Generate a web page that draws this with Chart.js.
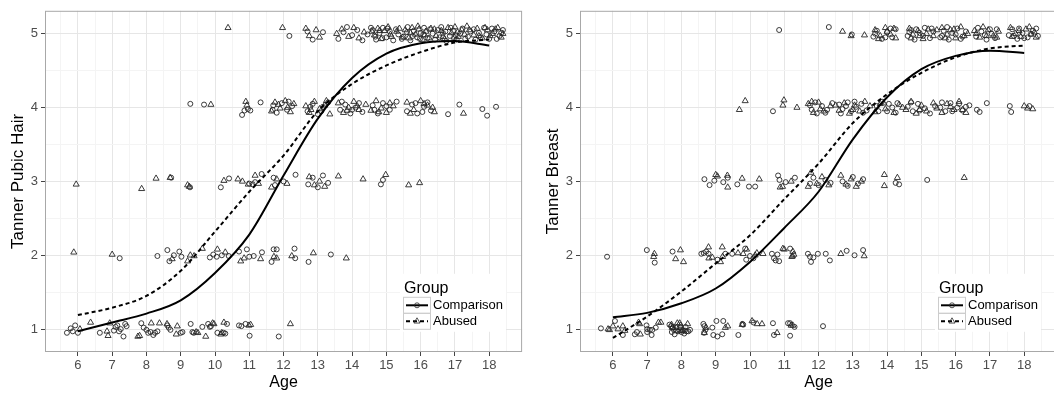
<!DOCTYPE html>
<html>
<head>
<meta charset="utf-8">
<title>Tanner stage by age</title>
<script src="https://cdn.jsdelivr.net/npm/chart.js@4"></script>
<style>
  body { margin: 0; width: 1054px; height: 394px; overflow: hidden; background: #fff; }
  .panel { position: absolute; top: 0; width: 527px; height: 394px; }
</style>
</head>
<body>
<div class="panel" style="left:0"><canvas id="pubicChart" width="527" height="394"></canvas></div>
<div class="panel" style="left:535px"><canvas id="breastChart" width="527" height="394"></canvas></div>

<script>
// ---- data: [age, stage] (points carry the plot's jitter) ----
const fitAges = [6, 7, 8, 9, 10, 11, 12, 13, 14, 15, 16, 17, 18];

// Tanner Pubic Hair
const pubicComparisonFit = [0.97, 1.09, 1.21, 1.39, 1.76, 2.28, 3.08, 3.85, 4.4, 4.73, 4.87, 4.9, 4.84];
const pubicAbusedFit     = [1.19, 1.29, 1.45, 1.79, 2.32, 2.86, 3.35, 3.95, 4.32, 4.57, 4.75, 4.88, 4.92];

const pubicComparison = [
  [12.17,4.97],[12.7,5.03],[12.85,4.92],[13.15,5.02],[13.6,4.93],[13.75,5.02],[13.85,5.09],[14.0,4.98],[14.15,5.05],[14.3,4.91],
  [14.45,4.99],[14.6,5.05],[14.7,4.92],[14.8,5.01],[14.9,5.08],[15.0,4.95],[15.1,5.03],[15.2,4.91],[15.35,4.99],[15.5,4.96],
  [15.6,5.02],[15.7,4.91],[15.8,5.04],[15.9,4.95],[16.0,5.01],[16.1,5.08],[16.2,4.94],[16.35,5.0],[16.5,5.05],[16.55,4.95],
  [16.65,5.01],[16.75,4.9],[16.85,4.97],[16.95,5.04],[17.05,4.92],[17.15,5.0],[17.3,4.93],[17.45,5.03],[17.6,4.92],[17.7,5.01],
  [17.85,5.08],[18.0,4.93],[18.15,5.03],[18.3,4.97],[18.4,5.05],
  [14.55,5.08],[14.68,4.96],[14.88,4.94],[15.03,5.07],[15.28,5.06],[15.45,4.93],[15.62,5.09],[15.77,4.97],[15.98,4.93],[16.08,4.99],
  [16.27,5.06],[16.42,4.92],[16.6,5.09],[16.72,5.03],[16.88,5.08],[17.02,4.98],[17.22,5.07],[17.38,4.96],[17.55,5.06],[17.75,4.95],
  [17.92,4.99],[18.08,5.07],[18.22,4.93],[18.35,5.01],
  [9.28,4.05],[9.68,4.04],[10.79,3.9],[10.86,3.96],[10.96,3.98],[11.03,3.96],[11.33,4.07],[11.7,4.03],[11.8,3.93],[11.95,4.06],
  [12.1,3.97],[12.25,4.02],[12.7,3.95],[12.85,4.05],[13.0,3.91],[13.15,4.01],[13.3,4.07],[13.65,3.97],[13.8,4.04],[13.95,3.92],
  [14.1,4.0],[14.3,3.94],[14.6,4.03],[14.75,3.92],[14.9,4.06],[15.1,3.97],[15.3,4.08],[15.6,3.95],[15.75,4.04],[15.9,3.92],
  [16.1,4.01],[16.3,3.96],[16.8,3.91],[17.13,4.04],[17.8,3.98],[17.94,3.89],[18.2,4.01],
  [11.68,3.97],[12.15,4.08],[12.78,4.01],[13.1,3.95],[13.7,4.08],[14.0,3.97],[14.2,4.06],[14.65,3.97],[15.0,4.02],[15.85,4.06],
  [16.05,3.94],[16.2,4.07],
  [8.72,3.05],[9.27,2.92],[10.17,2.92],[10.41,3.04],[11.0,2.97],[11.1,2.96],[11.17,2.99],[11.36,3.1],[11.71,3.05],[11.75,2.95],
  [12.0,3.0],[12.35,3.09],[12.72,2.96],[12.85,3.05],[13.0,2.92],[13.15,3.08],[13.3,2.98],[14.84,2.96],[14.9,3.02],
  [7.22,1.96],[8.32,1.99],[8.61,2.07],[8.67,1.92],[8.8,2.0],[8.96,2.05],[9.02,1.98],[9.85,1.97],[9.95,2.01],[10.05,1.98],
  [10.2,2.0],[10.4,1.99],[10.7,2.05],[10.93,2.08],[11.0,1.98],[11.13,1.99],[11.37,2.04],[11.65,1.91],[11.71,2.08],[11.8,2.08],
  [12.32,2.09],[12.34,1.96],[12.73,1.91],[13.38,2.01],
  [5.68,0.95],[5.79,1.01],[5.85,0.97],[5.92,1.05],[6.0,0.95],[6.64,0.95],[7.05,0.98],[7.1,1.03],[7.15,1.05],[7.2,0.97],
  [7.25,1.0],[7.33,0.9],[7.38,1.07],[7.42,1.04],[7.85,1.08],[7.92,1.02],[8.0,0.99],[8.05,0.95],[8.12,0.96],[8.2,0.92],
  [8.25,0.95],[8.32,0.97],[8.61,1.05],[8.65,1.02],[8.7,0.99],[9.0,0.95],[9.05,0.96],[9.29,1.07],[9.34,0.96],[9.38,0.95],
  [9.63,1.03],[9.8,1.07],[9.85,1.03],[9.88,1.04],[10.07,0.95],[10.25,0.95],[10.3,0.94],[10.35,1.07],[10.7,1.05],[10.77,1.04],
  [10.89,1.07],[11.01,0.91],[11.86,0.9]
];
const pubicAbused = [
  [10.38,5.08],[11.97,5.08],[12.65,5.07],[12.75,4.97],[12.95,5.05],[13.05,4.95],[13.55,5.0],[13.7,5.06],[13.9,4.96],[14.05,5.08],
  [14.2,4.94],[14.35,5.02],[14.65,4.98],[14.75,5.07],[14.85,4.93],[14.95,5.04],[15.05,5.09],[15.15,4.96],[15.3,5.03],[15.55,5.05],
  [15.65,4.94],[15.75,5.08],[15.85,4.99],[15.95,5.06],[16.05,4.92],[16.15,5.03],[16.3,5.07],[16.45,4.97],[16.6,5.04],[16.7,4.93],
  [16.8,5.08],[16.9,5.01],[17.0,5.09],[17.1,4.96],[17.2,5.05],[17.35,5.1],[17.55,4.98],[17.65,5.07],[17.8,4.94],[17.95,5.05],
  [18.1,5.0],[18.25,5.08],[18.35,4.95],
  [14.58,5.03],[14.8,5.04],[15.12,4.99],[15.38,5.07],[15.48,4.95],[15.7,5.01],[15.92,5.1],[16.12,4.98],[16.25,4.94],[16.4,5.06],
  [16.65,4.96],[16.98,4.95],[17.08,5.02],[17.28,4.99],[17.42,5.05],[17.7,4.97],[17.88,5.08],[18.03,4.97],[18.18,5.06],[18.4,5.0],
  [9.88,4.04],[10.9,4.08],[10.93,4.03],[11.65,3.95],[11.75,4.07],[11.9,3.99],[12.05,4.09],[12.2,3.94],[12.3,4.05],[12.65,4.02],
  [12.75,3.93],[12.9,4.08],[13.05,3.98],[13.2,4.03],[13.35,3.91],[13.6,4.06],[13.75,3.93],[13.9,4.0],[14.05,4.08],[14.2,3.97],
  [14.4,4.04],[14.55,3.96],[14.7,4.09],[14.85,3.99],[15.0,3.93],[15.2,4.02],[15.6,4.07],[15.8,3.97],[16.0,4.09],[16.2,4.03],
  [16.4,3.94],[17.25,3.92],
  [11.85,4.04],[12.12,4.0],[12.8,3.97],[13.25,4.09],[13.85,3.96],[14.15,4.02],[14.78,3.94],[15.1,4.06],[15.7,3.92],[16.1,4.05],
  [16.35,4.0],
  [5.95,2.96],[7.86,2.9],[8.28,3.04],[8.69,3.05],[9.2,2.95],[9.25,2.93],[10.26,3.01],[10.67,3.03],[10.8,3.0],[10.97,2.96],
  [11.17,3.08],[11.27,2.97],[11.65,2.92],[11.8,3.03],[12.1,2.97],[12.75,3.06],[12.9,2.95],[13.05,3.0],[13.2,2.93],[13.6,3.07],
  [14.32,3.03],[14.98,3.09],[15.65,2.95],[15.97,2.98],
  [5.88,2.04],[7.0,2.01],[8.75,1.95],[9.2,1.92],[9.28,2.0],[9.39,1.99],[9.63,2.09],[10.07,2.08],[10.3,2.04],[10.75,1.92],
  [10.85,1.96],[11.33,1.95],[11.72,1.98],[11.8,1.96],[12.24,1.99],[12.87,2.03],[13.83,1.96],
  [6.06,1.0],[6.37,1.09],[6.85,0.97],[6.88,0.91],[6.93,1.08],[7.75,0.9],[7.8,0.91],[8.14,1.08],[8.38,1.08],[8.6,1.07],
  [8.87,0.93],[8.9,1.04],[9.45,0.96],[9.5,0.95],[9.73,0.9],[9.93,1.08],[9.97,1.07],[10.17,0.93],[10.2,0.95],[10.26,1.09],
  [10.99,1.05],[11.04,1.06],[12.2,1.07]
];

// Tanner Breast
const breastComparisonFit = [1.16, 1.22, 1.35, 1.55, 1.91, 2.37, 2.86, 3.57, 4.14, 4.52, 4.7, 4.77, 4.74];
const breastAbusedFit     = [0.88, 1.17, 1.51, 1.89, 2.27, 2.76, 3.24, 3.79, 4.18, 4.47, 4.68, 4.8, 4.84];

const breastComparison = [
  [10.85,5.05],[12.3,5.09],[12.97,4.99],[13.6,4.96],[13.7,5.04],[13.85,4.93],[14.0,5.02],[14.15,4.95],[14.25,5.06],[14.6,4.97],
  [14.7,5.05],[14.8,4.92],[14.95,5.01],[15.1,5.08],[15.25,4.94],[15.35,5.03],[15.55,4.95],[15.65,5.04],[15.8,4.92],[15.9,5.01],
  [16.05,5.07],[16.2,4.96],[16.3,5.03],[16.6,4.96],[16.75,5.03],[16.9,4.92],[17.05,5.0],[17.2,5.06],[17.55,4.98],[17.65,5.06],
  [17.8,4.93],[17.95,5.01],[18.1,4.95],[18.25,5.04],[18.4,4.97],
  [13.65,5.0],[13.95,4.95],[14.1,5.07],[14.65,5.02],[14.85,5.06],[15.05,4.97],[15.3,5.07],[15.6,4.97],[15.75,5.09],[16.0,4.99],
  [16.15,4.93],[16.65,5.08],[16.85,4.98],[17.0,5.06],[17.15,4.94],[17.7,4.97],[17.85,5.07],[18.0,4.94],[18.2,5.0],[18.35,5.07],
  [10.67,3.95],[11.75,4.03],[11.8,3.97],[11.95,3.92],[12.1,4.02],[12.25,3.97],[12.4,4.06],[12.6,4.04],[12.7,3.98],[12.85,4.07],
  [12.95,3.95],[13.1,4.01],[13.25,4.05],[13.4,3.96],[13.7,4.02],[13.85,4.08],[14.0,3.95],[14.15,4.0],[14.3,4.06],[14.6,4.01],
  [14.75,3.95],[14.9,4.05],[15.1,3.99],[15.25,3.92],[15.4,4.02],[15.55,4.0],[15.7,3.95],[15.85,4.06],[16.05,4.0],[16.2,3.96],
  [16.4,4.03],[16.62,3.97],[16.7,3.94],[16.91,4.06],[17.58,4.02],[17.62,3.94],[18.15,4.02],
  [11.9,4.07],[12.2,3.93],[12.65,3.92],[12.8,4.02],[13.05,4.08],[13.3,3.93],[13.75,3.95],[14.05,4.05],[14.25,3.93],[14.7,4.07],
  [14.95,3.96],[15.6,4.07],[15.9,3.95],[16.1,4.05],[16.3,4.01],
  [8.67,3.03],[8.82,2.95],[8.96,3.01],[9.22,2.99],[9.35,3.05],[9.63,2.96],[9.97,2.93],[10.15,2.93],[10.82,3.08],[10.86,3.02],
  [11.04,2.99],[11.31,3.05],[11.75,2.97],[11.85,3.05],[12.0,2.95],[12.2,3.02],[12.35,2.98],[12.7,3.0],[12.85,2.94],[13.0,3.06],
  [13.15,2.97],[13.3,3.03],[14.25,2.98],[14.35,2.96],[15.17,3.02],
  [5.83,1.98],[6.99,2.07],[7.22,1.9],[7.74,2.05],[8.58,2.02],[8.65,2.03],[8.72,2.05],[8.79,2.02],[9.05,1.94],[9.28,2.02],
  [9.48,2.02],[9.86,2.09],[9.89,1.94],[10.0,1.99],[10.1,1.96],[10.64,2.02],[10.7,1.96],[10.75,1.93],[10.85,1.92],[10.8,2.01],
  [11.17,2.09],[11.69,2.02],[11.75,1.98],[11.78,1.91],[11.85,1.97],[11.98,2.02],[12.21,2.02],[12.33,1.93],[12.82,2.06],[13.05,2.0],
  [13.3,2.07],
  [5.65,1.01],[6.06,1.11],[6.29,0.92],[6.64,0.93],[6.7,0.96],[6.98,1.05],[7.0,1.0],[7.0,0.96],[7.08,0.99],[7.13,0.92],
  [7.15,0.99],[7.25,1.02],[7.65,1.06],[7.7,1.04],[7.75,1.02],[7.78,0.99],[7.8,0.93],[7.85,0.98],[7.9,0.97],[7.95,0.98],
  [8.0,0.96],[8.05,0.98],[8.1,0.98],[8.15,0.97],[8.2,0.97],[8.64,1.07],[8.67,1.04],[8.7,0.99],[8.66,0.95],[8.9,1.02],
  [8.93,0.92],[9.05,0.9],[9.02,1.11],[9.19,0.93],[9.22,1.11],[9.66,0.92],[9.78,1.07],[9.8,1.06],[10.1,1.09],[10.67,1.08],
  [10.7,0.92],[11.11,1.08],[11.17,0.91],[11.17,1.08],[11.3,1.03],[12.13,1.04],
  [7.72,0.96],[7.98,1.02],[8.08,0.94],[8.12,1.03],[8.25,0.99]
];
const breastAbused = [
  [12.7,5.03],[12.95,4.97],[13.34,4.98],[13.65,5.05],[13.8,4.97],[13.95,5.08],[14.1,4.99],[14.25,4.94],[14.65,5.07],[14.75,4.99],
  [14.9,5.04],[15.05,4.93],[15.2,5.06],[15.35,4.97],[15.6,5.08],[15.75,4.99],[15.85,5.05],[16.0,4.94],[16.15,5.09],[16.35,5.0],
  [16.55,5.04],[16.7,4.95],[16.8,5.09],[16.95,5.05],[17.1,4.97],[17.25,5.03],[17.6,5.08],[17.75,5.0],[17.9,4.96],[18.05,5.06],
  [18.2,4.99],[18.35,4.95],
  [13.75,4.93],[14.0,5.03],[14.2,5.07],[14.7,4.94],[14.95,4.97],[15.15,5.0],[15.45,5.05],[15.7,4.94],[15.95,5.06],[16.25,4.97],
  [16.6,5.0],[16.9,4.97],[17.2,4.95],[17.65,4.96],[17.85,5.04],[18.15,5.09],[18.3,5.02],
  [9.69,3.97],[9.86,4.09],[10.96,4.03],[10.99,4.1],[11.37,4.0],[11.7,4.05],[11.85,3.93],[12.0,4.07],[12.15,3.95],[12.35,4.02],
  [12.6,3.96],[12.75,4.06],[12.9,3.92],[13.05,4.03],[13.2,3.95],[13.35,4.08],[13.65,3.94],[13.8,4.05],[13.95,3.98],[14.2,3.93],
  [14.35,4.04],[14.55,3.97],[14.7,4.08],[14.85,3.92],[15.0,4.03],[15.15,3.95],[15.35,4.06],[15.6,3.93],[15.75,4.05],[15.95,3.97],
  [16.1,4.08],[16.3,3.93],[18.0,4.02],[18.1,3.99],[18.25,3.98],
  [11.8,4.08],[12.05,3.98],[12.5,4.03],[13.0,3.97],[13.5,4.02],[13.9,4.06],[14.45,4.0],[14.95,3.97],[15.45,3.99],[15.85,4.01],
  [16.2,3.97],
  [9.0,3.09],[9.05,3.07],[9.34,3.08],[9.35,2.92],[9.77,3.04],[10.27,3.03],[10.88,2.92],[10.95,2.93],[11.2,3.0],[11.78,3.12],
  [11.7,2.93],[11.95,2.97],[12.1,3.06],[12.3,2.95],[12.65,3.08],[12.8,2.96],[12.95,3.03],[13.1,2.93],[13.25,3.0],[13.92,3.09],
  [13.92,2.94],[14.3,3.05],[16.25,3.05],
  [7.19,1.98],[7.21,2.02],[7.83,1.95],[7.97,2.07],[8.06,1.91],[8.79,2.11],[8.8,1.96],[8.9,1.97],[9.14,1.91],[9.19,2.11],
  [9.2,1.98],[9.65,2.03],[9.8,2.02],[9.9,2.08],[10.15,2.0],[10.2,2.03],[10.38,2.02],[10.96,2.09],[11.0,2.08],[11.22,1.98],
  [11.25,2.05],[11.24,1.99],[11.28,2.01],[12.65,2.02],[13.33,1.99],
  [5.86,1.0],[5.9,0.99],[6.0,1.04],[6.15,1.0],[6.29,1.04],[6.35,0.98],[6.75,1.09],[6.78,1.07],[6.8,0.93],[7.33,1.09],
  [7.4,1.09],[7.71,1.06],[7.73,1.02],[7.88,1.08],[7.95,1.08],[7.97,1.05],[8.18,1.07],[8.67,0.95],[8.72,1.02],[9.28,1.02],
  [9.35,1.04],[9.77,1.06],[10.06,1.11],[10.21,1.07],[10.35,1.07],[10.79,0.95],[11.25,1.05],[11.2,1.05],
  [7.85,1.02],[8.02,0.98]
];

const xLimits = [5.04, 18.96];
const yLimits = [0.69, 5.31];
const groupNames = ['Comparison', 'Abused'];

// ---- styling ----
const majorGrid = '#e6e6e6';
const minorGrid = '#f4f4f4';
const markColor = '#262626';
const fontFamily = '"Liberation Sans", Arial, Helvetica, sans-serif';

const isMajor = v => Math.abs(v - Math.round(v)) < 1e-6;

// frame round the plotting region, drawn over the data like ggplot does
const panelBorder = {
  id: 'panelBorder',
  afterDatasetsDraw(chart) {
    const { ctx, chartArea: a } = chart;
    ctx.save();
    ctx.strokeStyle = '#a8a8a8';
    ctx.lineWidth = 1;
    ctx.strokeRect(a.left + 0.5, a.top + 0.5, a.width - 1, a.height - 1);
    ctx.restore();
  }
};

function drawKeyMark(ctx, style, x, y) {
  ctx.beginPath();
  if (style === 'circle') {
    ctx.arc(x, y, 2.5, 0, Math.PI * 2);
  } else {
    const r = 3.5;
    ctx.moveTo(x, y - r);
    ctx.lineTo(x + r * Math.sin(2 * Math.PI / 3), y - r * Math.cos(2 * Math.PI / 3));
    ctx.lineTo(x + r * Math.sin(4 * Math.PI / 3), y - r * Math.cos(4 * Math.PI / 3));
    ctx.closePath();
  }
  ctx.stroke();
}

// ggplot-style legend inside the panel, bottom right
const groupLegend = {
  id: 'groupLegend',
  afterDraw(chart) {
    const { ctx, chartArea: a } = chart;
    const lx = a.left + 358, ly = a.top + 263;
    ctx.save();
    ctx.fillStyle = '#fff';
    ctx.fillRect(lx - 3, ly, 106, 58);

    ctx.fillStyle = '#000';
    ctx.font = '16px ' + fontFamily;
    ctx.textBaseline = 'alphabetic';
    ctx.textAlign = 'left';
    ctx.fillText('Group', lx + 1, ly + 19);

    const keyW = 27, keyH = 16, keyTop = ly + 23;
    const styles = ['circle', 'triangle'];
    ctx.font = '13px ' + fontFamily;
    ctx.textBaseline = 'middle';
    groupNames.forEach((name, i) => {
      const ky = keyTop + i * keyH;
      ctx.strokeStyle = '#cccccc';
      ctx.lineWidth = 1;
      ctx.setLineDash([]);
      ctx.strokeRect(lx + 0.5, ky + 0.5, keyW, keyH);
      const cy = ky + keyH / 2 + 0.5;
      ctx.strokeStyle = '#000';
      ctx.lineWidth = 2;
      ctx.setLineDash(i === 0 ? [] : [4, 3]);
      ctx.beginPath();
      ctx.moveTo(lx + 3, cy);
      ctx.lineTo(lx + keyW - 2, cy);
      ctx.stroke();
      ctx.setLineDash([]);
      ctx.lineWidth = 0.8;
      ctx.strokeStyle = markColor;
      drawKeyMark(ctx, styles[i], lx + keyW / 2 + 0.5, cy);
      ctx.fillStyle = '#000';
      ctx.fillText(name, lx + 30, cy + 0.5);
    });
    ctx.restore();
  }
};

function toPoints(pairs) {
  return pairs.map(p => ({ x: p[0], y: p[1] }));
}
function toCurve(values) {
  return fitAges.map((a, i) => ({ x: a, y: values[i] }));
}

function makeChart(canvasId, yTitle, comparison, abused, comparisonFit, abusedFit) {
  const axisTicks = {
    stepSize: 0.5,
    includeBounds: false,
    autoSkip: false,
    maxRotation: 0,
    color: '#4d4d4d',
    font: { family: fontFamily, size: 13 },
    callback: v => isMajor(v) ? Math.round(v) : ''
  };
  const axisGrid = {
    color: c => (c.tick && isMajor(c.tick.value)) ? majorGrid : minorGrid,
    tickColor: c => (c.tick && isMajor(c.tick.value)) ? '#444' : 'rgba(0,0,0,0)',
    tickLength: 4,
    lineWidth: 1
  };

  return new Chart(document.getElementById(canvasId), {
    type: 'scatter',
    data: {
      datasets: [
        {
          label: groupNames[0] + ' fit',
          data: toCurve(comparisonFit),
          showLine: true,
          pointRadius: 0,
          borderColor: '#000',
          borderWidth: 2,
          cubicInterpolationMode: 'monotone',
          fill: false
        },
        {
          label: groupNames[1] + ' fit',
          data: toCurve(abusedFit),
          showLine: true,
          pointRadius: 0,
          borderColor: '#000',
          borderWidth: 2,
          borderDash: [4, 3],
          cubicInterpolationMode: 'monotone',
          fill: false
        },
        {
          label: groupNames[0],
          data: toPoints(comparison),
          pointStyle: 'circle',
          pointRadius: 2.5,
          borderWidth: 0.9,
          borderColor: markColor,
          backgroundColor: 'rgba(0,0,0,0)'
        },
        {
          label: groupNames[1],
          data: toPoints(abused),
          pointStyle: 'triangle',
          pointRadius: 3.5,
          borderWidth: 0.9,
          borderColor: markColor,
          backgroundColor: 'rgba(0,0,0,0)'
        }
      ]
    },
    options: {
      responsive: false,
      animation: false,
      events: [],
      layout: { padding: { top: 7, right: 2, bottom: 0, left: 0 } },
      plugins: { legend: { display: false }, tooltip: { enabled: false } },
      scales: {
        x: {
          type: 'linear',
          min: xLimits[0],
          max: xLimits[1],
          afterFit: s => { s.height = 42; },
          ticks: Object.assign({ padding: 2 }, axisTicks),
          grid: axisGrid,
          border: { display: false },
          title: {
            display: true,
            text: 'Age',
            color: '#000',
            font: { family: fontFamily, size: 16 },
            padding: { top: 0, bottom: 2 }
          }
        },
        y: {
          type: 'linear',
          min: yLimits[0],
          max: yLimits[1],
          afterFit: s => { s.width = 45; },
          ticks: Object.assign({ padding: 3 }, axisTicks),
          grid: axisGrid,
          border: { display: false },
          title: {
            display: true,
            text: yTitle,
            color: '#000',
            font: { family: fontFamily, size: 17 },
            padding: { top: 8, bottom: 0 }
          }
        }
      }
    },
    plugins: [panelBorder, groupLegend]
  });
}

makeChart('pubicChart', 'Tanner Pubic Hair', pubicComparison, pubicAbused, pubicComparisonFit, pubicAbusedFit);
makeChart('breastChart', 'Tanner Breast', breastComparison, breastAbused, breastComparisonFit, breastAbusedFit);
</script>
</body>
</html>
